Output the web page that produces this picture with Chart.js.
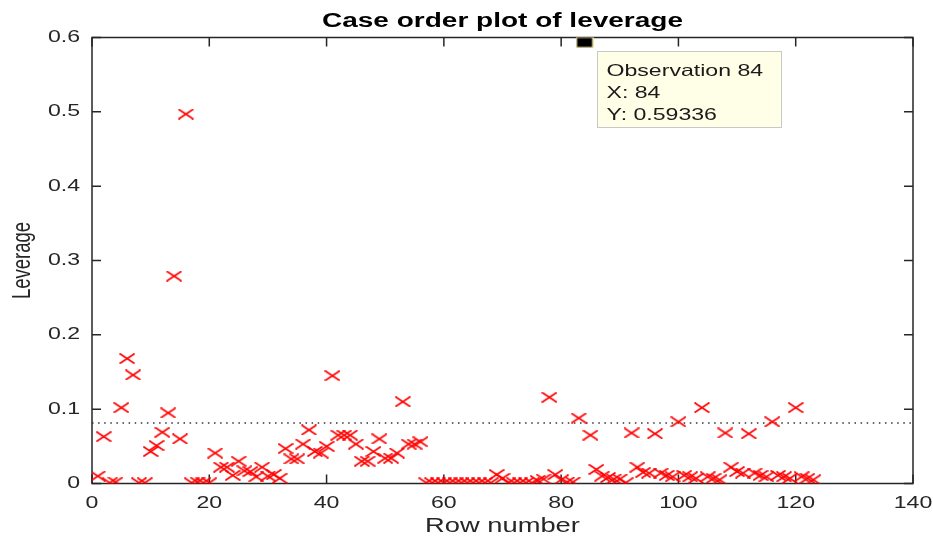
<!DOCTYPE html>
<html lang="en">
<head>
  <meta charset="UTF-8" />
  <title>Case order plot of leverage</title>
  <script src="https://cdn.jsdelivr.net/npm/chart.js@4.4.1/dist/chart.umd.min.js"></script>
  <style>
    html,body{margin:0;padding:0;background:#fff}
    #wrap{width:933px;height:538px}
  </style>
</head>
<body>
<div id="wrap"><canvas id="chart" width="933" height="538"></canvas></div>
<script>
  // leverage per row (row number = position in list, 1..123)
  const leverage = [
    0.010, 0.063, 0.001, 0.002, 0.102, 0.168, 0.146, 0.001, 0.001, 0.043,
    0.051, 0.069, 0.095, 0.279, 0.060, 0.497, 0.001, 0.002, 0.001, 0.001,
    0.041, 0.022, 0.022, 0.011, 0.030, 0.017, 0.016, 0.009, 0.022, 0.010,
    0.012, 0.007, 0.047, 0.033, 0.033, 0.053, 0.072, 0.043, 0.041, 0.050,
    0.145, 0.065, 0.065, 0.065, 0.053, 0.030, 0.030, 0.043, 0.060, 0.034,
    0.034, 0.041, 0.110, 0.053, 0.053, 0.056, 0.001, 0.001, 0.001, 0.001,
    0.001, 0.001, 0.001, 0.001, 0.001, 0.001, 0.001, 0.001, 0.012, 0.007,
    0.001, 0.001, 0.001, 0.001, 0.001, 0.004, 0.006, 0.116, 0.012, 0.005,
    0.002, 0.002, 0.088, 0.59336, 0.065, 0.019, 0.010, 0.008, 0.006, 0.006,
    0.001, 0.068, 0.022, 0.015, 0.014, 0.067, 0.014, 0.011, 0.009, 0.083,
    0.011, 0.009, 0.007, 0.102, 0.009, 0.007, 0.005, 0.068, 0.022, 0.016,
    0.014, 0.067, 0.014, 0.011, 0.009, 0.083, 0.011, 0.009, 0.007, 0.102,
    0.009, 0.007, 0.005
  ];
  const threshold = 0.0813;          // dotted reference line
  const tipRow = 84;                 // highlighted observation
  const tipLines = ['Observation 84', 'X: 84', 'Y: 0.59336'];
  const xTicks = [0, 20, 40, 60, 80, 100, 120, 140];
  const xTickLabels = ['0', '20', '40', '60', '80', '100', '120', '140'];
  const yTicks = [0, 0.1, 0.2, 0.3, 0.4, 0.5, 0.6];
  const yTickLabels = ['0', '0.1', '0.2', '0.3', '0.4', '0.5', '0.6'];
  const titleText = 'Case order plot of leverage';
  const xTitle = 'Row number';
  const yTitle = 'Leverage';

  const FONT = '"Liberation Sans", Arial, Helvetica, sans-serif';
  const AXIS = '#262626';
  const SX = 1.4; // the original figure text is wide

  function makeCross(){
    const c=document.createElement('canvas');c.width=16;c.height=11;
    const g=c.getContext('2d');
    g.strokeStyle='#ff0000';g.lineWidth=1.7;
    g.beginPath();g.moveTo(0.5,0.5);g.lineTo(15.5,10.5);g.moveTo(15.5,0.5);g.lineTo(0.5,10.5);g.stroke();
    return c;
  }
  function makeSquare(){
    const c=document.createElement('canvas');c.width=18;c.height=12;
    const g=c.getContext('2d');
    g.fillStyle='#efe6b0';g.fillRect(0,0,18,12);
    g.fillStyle='#000';g.fillRect(1.5,1.5,15,9);
    return c;
  }

  function wideText(ctx,txt,x,y,font,align,base,rot){
    ctx.save();
    ctx.translate(x,y);ctx.scale(SX,1);
    if(rot)ctx.rotate(rot);
    ctx.font=font;ctx.textAlign=align;ctx.textBaseline=base;
    ctx.fillText(txt,0,0);
    ctx.restore();
  }

  const boxPlugin={
    id:'matlabBox',
    beforeDatasetsDraw(chart){
      const {ctx,chartArea:a,scales:{x,y}}=chart;
      ctx.save();
      ctx.strokeStyle=AXIS;ctx.lineWidth=1.5;
      ctx.strokeRect(a.left,a.top,a.right-a.left,a.bottom-a.top);
      ctx.beginPath();
      xTicks.forEach(v=>{
        const px=x.getPixelForValue(v);
        ctx.moveTo(px,a.bottom);ctx.lineTo(px,a.bottom-9);
        ctx.moveTo(px,a.top);ctx.lineTo(px,a.top+9);
      });
      yTicks.forEach(v=>{
        const py=y.getPixelForValue(v);
        ctx.moveTo(a.left,py);ctx.lineTo(a.left+9,py);
        ctx.moveTo(a.right,py);ctx.lineTo(a.right-9,py);
      });
      ctx.stroke();
      ctx.fillStyle=AXIS;
      const tf='16.5px '+FONT;
      xTicks.forEach((v,i)=>wideText(ctx,xTickLabels[i],x.getPixelForValue(v),503,tf,'center','middle'));
      yTicks.forEach((v,i)=>wideText(ctx,yTickLabels[i],a.left-12,y.getPixelForValue(v),tf,'right','middle'));
      wideText(ctx,xTitle,(a.left+a.right)/2,527,'19.5px '+FONT,'center','middle');
      wideText(ctx,yTitle,23,(a.top+a.bottom)/2,'18.5px '+FONT,'center','middle',-Math.PI/2);
      ctx.fillStyle='#000';
      wideText(ctx,titleText,(a.left+a.right)/2,27,'bold 20px '+FONT,'center','alphabetic');
      ctx.restore();
    },
    afterDatasetsDraw(chart){
      const {ctx,scales:{x,y}}=chart;
      const px=x.getPixelForValue(tipRow),py=y.getPixelForValue(leverage[tipRow-1]);
      const bx=Math.round(px+12)+0.5,by=Math.round(py+9)+0.5,bw=184,bh=76;
      ctx.save();
      ctx.fillStyle='#ffffe8';ctx.fillRect(bx,by,bw,bh);
      ctx.strokeStyle='#c8c8c8';ctx.lineWidth=1;ctx.strokeRect(bx,by,bw,bh);
      ctx.fillStyle='#1a1a1a';
      tipLines.forEach((t,i)=>wideText(ctx,t,bx+9,by+24+i*22.3,'16.5px '+FONT,'left','alphabetic'));
      ctx.restore();
    }
  };

  new Chart(document.getElementById('chart'),{
    type:'scatter',
    data:{datasets:[
      {label:'Data tip',data:[{x:tipRow,y:leverage[tipRow-1]}],pointStyle:makeSquare(),pointRadius:9,order:0},
      {label:'Leverage',data:leverage.map((v,i)=>({x:i+1,y:v})),pointStyle:makeCross(),pointRadius:8,order:1},
      {type:'line',label:'Threshold',data:[{x:xTicks[0],y:threshold},{x:xTicks[xTicks.length-1],y:threshold}],
       borderColor:'#333',borderWidth:1.5,borderDash:[1.5,4.6],pointRadius:0,order:2}
    ]},
    options:{
      responsive:false,animation:false,
      layout:{padding:{left:0,right:20,top:37.5,bottom:0}},
      plugins:{legend:{display:false},tooltip:{enabled:false},title:{display:false}},
      scales:{
        x:{type:'linear',min:0,max:140,
          afterFit(s){s.height=54.5;},
          afterBuildTicks(s){s.ticks=xTicks.map(v=>({value:v}));},
          grid:{display:false},border:{display:false},ticks:{display:false}},
        y:{type:'linear',min:0,max:0.6,
          afterFit(s){s.width=92;},
          afterBuildTicks(s){s.ticks=yTicks.map(v=>({value:v}));},
          grid:{display:false},border:{display:false},ticks:{display:false}}
      }
    },
    plugins:[boxPlugin]
  });
</script>
</body>
</html>
